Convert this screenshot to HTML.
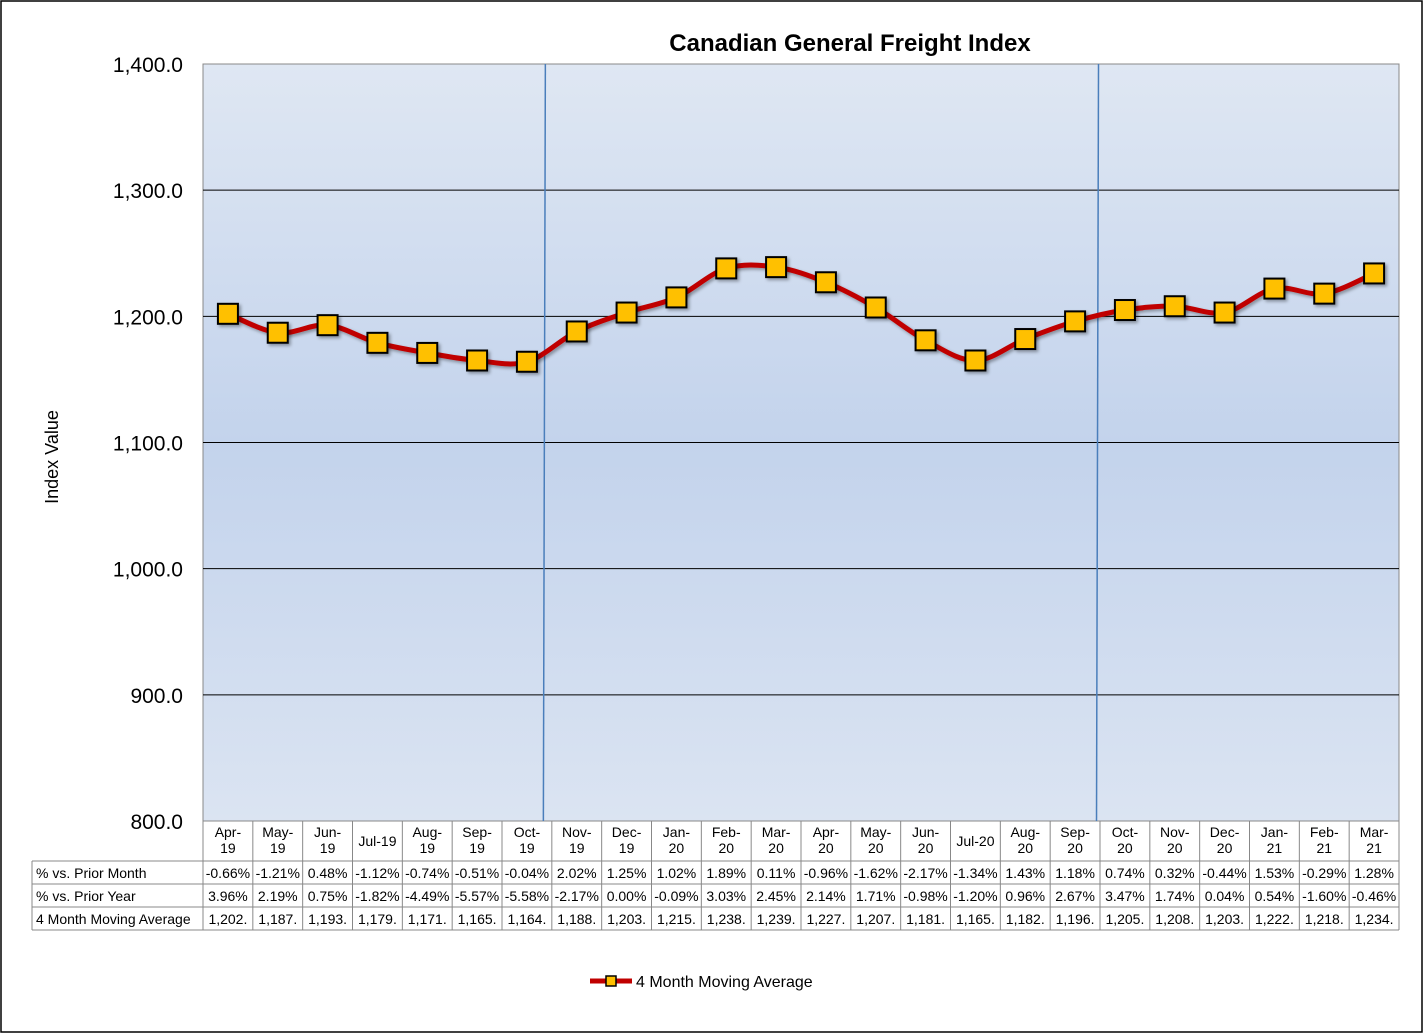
<!DOCTYPE html>
<html><head><meta charset="utf-8"><style>
html,body{margin:0;padding:0;background:#fff}
svg{display:block;font-family:"Liberation Sans",Arial,sans-serif}
</style></head><body>
<svg id="chart" width="1423" height="1034" viewBox="0 0 1423 1034">
<defs>
<linearGradient id="bg" x1="0" y1="0" x2="0" y2="1">
<stop offset="0" stop-color="#dfe7f3"/>
<stop offset="0.5" stop-color="#c3d3ec"/>
<stop offset="1" stop-color="#dbe4f2"/>
</linearGradient>
<filter id="sh" x="-50%" y="-50%" width="200%" height="200%"><feDropShadow dx="2" dy="2" stdDeviation="1.5" flood-color="#000" flood-opacity="0.35"/></filter>
</defs>
<rect x="1" y="1" width="1421" height="1031" fill="#fff" stroke="#000" stroke-width="1.5"/>
<text x="850" y="51" text-anchor="middle" font-size="24" font-weight="bold">Canadian General Freight Index</text>
<rect x="203" y="64" width="1196" height="757" fill="url(#bg)" stroke="#888"/>
<text transform="translate(58,457) rotate(-90)" text-anchor="middle" font-size="18">Index Value</text>
<g id="grid"></g><g id="ylab"></g><g id="series"></g><g id="table"></g>
<g>
<line x1="590" y1="981" x2="632" y2="981" stroke="#c00000" stroke-width="5"/>
<rect x="606" y="976" width="10" height="10" fill="#ffc000" stroke="#000" stroke-width="1.5"/>
<text x="636" y="987" font-size="16">4 Month Moving Average</text>
</g>
</svg>
<script>
const categories=["Apr-19","May-19","Jun-19","Jul-19","Aug-19","Sep-19","Oct-19","Nov-19","Dec-19","Jan-20","Feb-20","Mar-20","Apr-20","May-20","Jun-20","Jul-20","Aug-20","Sep-20","Oct-20","Nov-20","Dec-20","Jan-21","Feb-21","Mar-21"];
const movingAvg=[1202,1187,1193,1179,1171,1165,1164,1188,1203,1215,1238,1239,1227,1207,1181,1165,1182,1196,1205,1208,1203,1222,1218,1234];
const priorMonth=["-0.66%","-1.21%","0.48%","-1.12%","-0.74%","-0.51%","-0.04%","2.02%","1.25%","1.02%","1.89%","0.11%","-0.96%","-1.62%","-2.17%","-1.34%","1.43%","1.18%","0.74%","0.32%","-0.44%","1.53%","-0.29%","1.28%"];
const priorYear=["3.96%","2.19%","0.75%","-1.82%","-4.49%","-5.57%","-5.58%","-2.17%","0.00%","-0.09%","3.03%","2.45%","2.14%","1.71%","-0.98%","-1.20%","0.96%","2.67%","3.47%","1.74%","0.04%","0.54%","-1.60%","-0.46%"];
const yTicks=[800,900,1000,1100,1200,1300,1400];
const yTickLabels=["800.0","900.0","1,000.0","1,100.0","1,200.0","1,300.0","1,400.0"];
const dividerIdx=[6.85,17.95];
const NS="http://www.w3.org/2000/svg";
const X0=203,X1=1399,Y0=821,Y1=64,YMIN=800,YMAX=1400;
const bw=(X1-X0)/categories.length;
const xs=i=>X0+bw*(i+0.5);
const ys=v=>Y0-(v-YMIN)/(YMAX-YMIN)*(Y0-Y1);
function mk(tag,attrs,parent,txt){const e=document.createElementNS(NS,tag);for(const k in attrs)e.setAttribute(k,attrs[k]);if(txt!==undefined)e.textContent=txt;parent.appendChild(e);return e;}
const grid=document.getElementById('grid'),ylab=document.getElementById('ylab'),ser=document.getElementById('series'),tb=document.getElementById('table');
yTicks.forEach((t,i)=>{
  if(t>YMIN&&t<YMAX){const l=mk('line',{x1:X0,x2:X1,y1:ys(t),y2:ys(t),stroke:'#000','stroke-width':1},grid);
  
  }
  const tx=mk('text',{x:183,y:ys(t)+8,'text-anchor':'end','font-size':21},ylab,yTickLabels[i]);
  
  
});
dividerIdx.forEach(d=>{const x=X0+bw*d;const l=mk('line',{x1:x+1,x2:x-1,y1:Y1,y2:Y0,stroke:'#4a7ebb','stroke-width':1.5},grid);
  
  });
const pts=movingAvg.map((v,i)=>[xs(i),ys(v)]);
let d='M'+pts[0][0]+','+pts[0][1];
for(let i=0;i<pts.length-1;i++){const p0=pts[Math.max(0,i-1)],p1=pts[i],p2=pts[i+1],p3=pts[Math.min(pts.length-1,i+2)];const k=0.17;
  d+=` C${p1[0]+(p2[0]-p0[0])*k},${p1[1]+(p2[1]-p0[1])*k} ${p2[0]-(p3[0]-p1[0])*k},${p2[1]-(p3[1]-p1[1])*k} ${p2[0]},${p2[1]}`;}
const path=mk('path',{d:d,fill:'none',stroke:'#c00000','stroke-width':5,filter:'url(#sh)'},ser);


pts.forEach((p,i)=>{const r=mk('rect',{x:p[0]-10,y:p[1]-10,width:20,height:20,fill:'#ffc000',stroke:'#000','stroke-width':2,filter:'url(#sh)'},ser);
  
  });
const rows=[["% vs. Prior Month",priorMonth],["% vs. Prior Year",priorYear],["4 Month Moving Average",movingAvg.map(v=>v.toLocaleString('en-US')+'.')]];
const rowY=[861,884,907,930];
mk('line',{x1:X0,x2:X0,y1:Y0,y2:930,stroke:'#888'},tb);
categories.forEach((c,i)=>{const x=X0+bw*(i+1);const l=mk('line',{x1:x,x2:x,y1:Y0,y2:930,stroke:'#888'},tb);
  
  
  const parts=c==="Jul-19"||c==="Jul-20"?[c]:[c.split('-')[0]+'-',c.split('-')[1]];
  parts.forEach((p,j)=>{const t=mk('text',{x:xs(i),y:parts.length==1?846:837+j*16,'text-anchor':'middle','font-size':14},tb,p);
    
    });
});
rowY.forEach(y=>{const l=mk('line',{x1:32,x2:X1,y1:y,y2:y,stroke:'#888'},tb);
  
  });
mk('line',{x1:32,x2:32,y1:861,y2:930,stroke:'#888'},tb);
rows.forEach((r,ri)=>{const y=rowY[ri]+17;
  const h=mk('text',{x:36,y:y,'font-size':14},tb,r[0]);
  
  
  r[1].forEach((v,i)=>{const t=mk('text',{x:xs(i),y:y,'text-anchor':'middle','font-size':14},tb,v);
    
    });
});
</script>
</body></html>
